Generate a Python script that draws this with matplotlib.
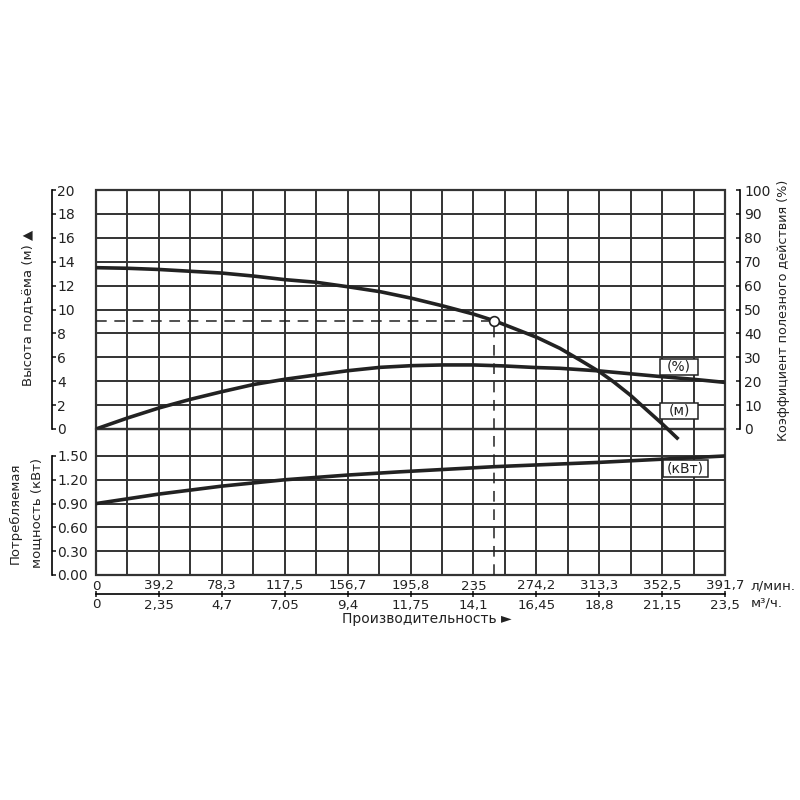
import numpy as np
import matplotlib

matplotlib.use('Agg')
import matplotlib.pyplot as plt
from matplotlib.patches import Rectangle

plt.rcParams['font.family'] = ['DejaVu Sans']

# ----- data ---------------------------------------------------------------
Q_MAX = 391.7
lpm_labels = ['0', '39,2', '78,3', '117,5', '156,7', '195,8', '235',
              '274,2', '313,3', '352,5', '391,7']
m3h_labels = ['0', '2,35', '4,7', '7,05', '9,4', '11,75', '14,1',
              '16,45', '18,8', '21,15', '23,5']

q_head = [0, 19.6, 39.2, 58.7, 78.3, 98, 117.5, 137, 157, 177, 196.6, 216,
          235, 248, 253.4, 274.5, 288.9, 301.4, 313.4, 322.2, 332.6, 343,
          352.3, 362.7]
head = [13.5, 13.45, 13.35, 13.2, 13.05, 12.8, 12.5, 12.28, 11.9, 11.49,
        10.94, 10.3, 9.62, 9.06, 8.78, 7.67, 6.75, 5.77, 4.8, 3.96, 2.85,
        1.59, 0.47, -0.86]

q_eff = [0, 19.6, 39.2, 58.7, 78.3, 98, 117.5, 137, 157, 177, 196.6, 216,
         235, 253.4, 274.5, 288.9, 313.4, 352.3, 372, 391.7]
eff = [0, 4.6, 8.8, 12.4, 15.6, 18.6, 20.8, 22.6, 24.4, 25.8, 26.5, 26.8,
       26.8, 26.4, 25.7, 25.4, 24.3, 21.9, 20.8, 19.5]

q_pow = [0, 19.6, 39.2, 78.3, 117.5, 157, 189, 248, 314, 391.7]
power = [0.90, 0.96, 1.02, 1.12, 1.20, 1.26, 1.30, 1.365, 1.42, 1.50]

duty_q, duty_h = 248, 9.0
# -------------------------------------------------------------------------

GRID = '#333333'
INK = '#222222'
FS = 10
XFS = 9.6
PX = 72 / 100  # points per pixel at dpi 100

fig = plt.figure(figsize=(8, 8), dpi=100)
axp = fig.add_axes([0.12, 0.28125, 0.78625, 0.1825])
ax = fig.add_axes([0.12, 0.46375, 0.78625, 0.29875])
ax_eff = ax.twinx()
ax.patch.set_visible(False)
ax_eff.patch.set_visible(False)

step = Q_MAX / 20
xt_minor = np.arange(21) * step
xt_major = np.arange(11) * 2 * step


def label_box(a, xc, yc, w_px, h_px, text):
    """Boxed curve tag centred at (xc, yc) in axes fraction."""
    bb = a.get_position()
    w = w_px / (bb.width * 800)
    h = h_px / (bb.height * 800)
    a.add_patch(Rectangle((xc - w / 2, yc - h / 2), w, h,
                          transform=a.transAxes, fc='white', ec=INK,
                          lw=1.1, zorder=5, clip_on=False))
    a.text(xc, yc, text, transform=a.transAxes, ha='center', va='center',
           fontsize=FS, color=INK, zorder=6)


for a in (ax, axp):
    a.set_xlim(0, Q_MAX)
    a.set_xticks(xt_major)
    a.set_xticks(xt_minor, minor=True)
    a.grid(True, which='both', axis='x', color=GRID, lw=1.4)
    a.grid(True, which='major', axis='y', color=GRID, lw=1.4)
    a.set_axisbelow(True)
    for s in ('top', 'right'):
        a.spines[s].set_visible(False)
    a.spines['left'].set_position(('outward', 44 * PX))
    a.spines['left'].set_linewidth(1.2)
    a.tick_params(axis='x', which='minor', length=0)
    a.tick_params(axis='y', direction='in', length=4 * PX, width=1.2,
                  pad=-5 * PX, labelsize=FS, colors=INK)
    a.add_patch(Rectangle((0, 0), 1, 1, transform=a.transAxes, fill=False,
                          ec=GRID, lw=1.6, clip_on=False, zorder=0.5))

# head panel
ax.set_ylim(0, 20)
ax.set_yticks(np.arange(0, 21, 2))
ax.spines['left'].set_bounds(0, 20)
ax.spines['bottom'].set_visible(False)
ax.tick_params(axis='x', which='both', length=0, labelbottom=False)
for lab in ax.get_yticklabels():
    lab.set_horizontalalignment('left')

ax.plot(q_head, head, color=INK, lw=2.6, clip_on=False, zorder=3,
        solid_capstyle='butt')
ax.plot([0, duty_q], [duty_h, duty_h], color=INK, lw=1.1, ls=(0, (7, 5)),
        zorder=2)
ax.plot([duty_q, duty_q], [0, duty_h], color=INK, lw=1.1, ls=(0, (7, 5)),
        zorder=2)
ax.plot([duty_q], [duty_h], 'o', ms=7, mfc='white', mec=INK, mew=1.2,
        zorder=4)

# efficiency (right) axis
ax_eff.set_ylim(0, 100)
ax_eff.set_yticks(np.arange(0, 101, 10))
for s in ('top', 'left', 'bottom'):
    ax_eff.spines[s].set_visible(False)
ax_eff.spines['right'].set_position(('outward', 15 * PX))
ax_eff.spines['right'].set_bounds(0, 100)
ax_eff.spines['right'].set_linewidth(1.2)
ax_eff.tick_params(axis='y', direction='in', length=4 * PX, width=1.2,
                   pad=4 * PX, labelsize=FS, colors=INK)
ax_eff.plot(q_eff, eff, color=INK, lw=2.6, zorder=3)

label_box(ax_eff, (679 - 96) / 629, (429 - 367) / 239, 38, 16, '(%)')
label_box(ax_eff, (679 - 96) / 629, (429 - 410.5) / 239, 38, 16, '(м)')

# power panel
axp.set_ylim(0, 1.84)
axp.set_yticks(np.arange(0, 1.51, 0.3))
axp.set_yticklabels([f'{v:.2f}' for v in np.arange(0, 1.51, 0.3)])
for lab in axp.get_yticklabels():
    lab.set_horizontalalignment('left')
axp.spines['left'].set_bounds(0, 1.5)
axp.spines['bottom'].set_position(('outward', 19 * PX))
axp.spines['bottom'].set_bounds(0, Q_MAX)
axp.spines['bottom'].set_linewidth(1.2)
axp.set_xticklabels(m3h_labels)
axp.tick_params(axis='x', which='major', direction='inout', length=6 * PX,
                width=1.2, pad=1.5 * PX, labelsize=XFS, colors=INK)

axp.plot(q_pow, power, color=INK, lw=2.6, zorder=3)
axp.axvline(duty_q, color=INK, lw=1.1, ls=(0, (7, 5)), zorder=2)
label_box(axp, (685.5 - 96) / 629, (575 - 468.5) / 146, 45, 17, '(кВт)')

# upper row of flow labels (l/min) above the scale line
xtr = axp.get_xaxis_transform()
for x, lab in zip(xt_major, lpm_labels):
    axp.text(x, -11 / 146, lab, transform=xtr, ha='center', va='center',
             fontsize=XFS, color=INK)
axp.text(Q_MAX + 16, -11 / 146, 'л/мин.', transform=xtr, ha='left',
         va='center', fontsize=XFS, color=INK)
axp.text(Q_MAX + 16, -28 / 146, 'м³/ч.', transform=xtr, ha='left',
         va='center', fontsize=XFS, color=INK)

# axis titles
fig.text(28 / 800, 1 - 308 / 800, 'Высота подъёма (м) ▲', rotation=90,
         ha='center', va='center', fontsize=9.5, color=INK)
fig.text(26 / 800, 1 - 513 / 800, 'Потребляемая\nмощность (кВт)',
         rotation=90, ha='center', va='center', fontsize=9.5, color=INK,
         linespacing=1.8)
fig.text(783 / 800, 1 - 310 / 800, 'Коэффициент полезного действия (%)',
         rotation=90, ha='center', va='center', fontsize=9.2, color=INK)
fig.text(427 / 800, 1 - 619 / 800, 'Производительность ►', ha='center',
         va='center', fontsize=FS, color=INK)

fig.savefig('out.png', dpi=100, facecolor='white')
